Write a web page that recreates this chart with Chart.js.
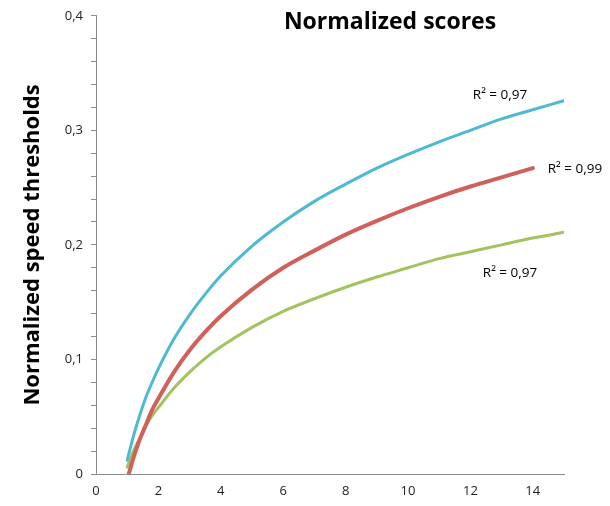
<!DOCTYPE html>
<html>
<head>
<meta charset="utf-8">
<script src="https://cdn.jsdelivr.net/npm/chart.js@4/dist/chart.umd.min.js"></script>
<style>
html, body { margin: 0; padding: 0; background: #fff; }
</style>
</head>
<body>
<canvas id="graphId" width="610" height="506"></canvas>
<script>
////////////////////////////// data \\\\\\\\\\\\\\\\\\\\\\\\\\\\\\
var chartTitle = 'Normalized scores';
var yTitle = 'Normalized speed thresholds';

var xBlue  = [1, 1.2, 1.4, 1.6, 1.8, 2, 2.5, 3, 3.5, 4, 5, 6, 7, 8, 9, 10, 11, 12, 13, 14, 15];
var blue   = [0.012, 0.033, 0.051, 0.067, 0.080, 0.092, 0.118, 0.139, 0.157, 0.173, 0.199, 0.220, 0.238, 0.253, 0.267, 0.279, 0.290, 0.300, 0.310, 0.318, 0.326];

var xRed   = [1.05, 1.2, 1.4, 1.6, 1.8, 2, 2.5, 3, 3.5, 4, 5, 6, 7, 8, 9, 10, 11, 12, 13, 14];
var red    = [0, 0.014, 0.030, 0.043, 0.056, 0.066, 0.089, 0.108, 0.124, 0.138, 0.161, 0.180, 0.195, 0.209, 0.221, 0.232, 0.242, 0.251, 0.259, 0.267];

var xGreen = [1, 1.2, 1.4, 1.6, 1.8, 2, 2.5, 3, 3.5, 4, 5, 6, 7, 8, 9, 10, 11, 12, 13, 14, 15];
var green  = [0.006, 0.020, 0.031, 0.042, 0.051, 0.058, 0.075, 0.089, 0.101, 0.111, 0.128, 0.142, 0.153, 0.163, 0.172, 0.180, 0.188, 0.194, 0.200, 0.206, 0.211];

// R² labels, anchored in data units
var r2Text = ['R\u00B2 = 0,97', 'R\u00B2 = 0,99', 'R\u00B2 = 0,97'];
var r2X    = [12.95, 15.35, 13.27];
var r2Y    = [0.331, 0.266, 0.175];

var xTicks = [0, 2, 4, 6, 8, 10, 12, 14];

////////////////////////////// helpers \\\\\\\\\\\\\\\\\\\\\\\\\\\\\\
function toPoints(xs, ys) {
  var pts = [];
  for (var i = 0; i < xs.length; i++) pts.push({x: xs[i], y: ys[i]});
  return pts;
}

var textPlugin = {
  id: 'textPlugin',
  afterDatasetsDraw: function(chart) {
    var ctx = chart.ctx;
    var xs = chart.scales.x, ys = chart.scales.y;
    ctx.save();
    ctx.fillStyle = '#000';
    ctx.textAlign = 'center';
    ctx.textBaseline = 'middle';
    ctx.font = 'bold 23px "Open Sans"';
    ctx.fillText(chartTitle, 390, 22);
    ctx.font = '13.5px "Open Sans"';
    for (var i = 0; i < r2Text.length; i++) {
      ctx.fillText(r2Text[i], xs.getPixelForValue(r2X[i]), ys.getPixelForValue(r2Y[i]));
    }
    ctx.restore();
  }
};

var axisGrey = '#8c8c8c';

////////////////////////////// chart \\\\\\\\\\\\\\\\\\\\\\\\\\\\\\
var ctx = document.getElementById('graphId').getContext('2d');
var myChart = new Chart(ctx, {
  type: 'line',
  data: {
    datasets: [
      { data: toPoints(xBlue, blue),   borderColor: '#4db9d2', borderWidth: 3 },
      { data: toPoints(xRed, red),     borderColor: '#d0605a', borderWidth: 4 },
      { data: toPoints(xGreen, green), borderColor: '#a2c360', borderWidth: 3 }
    ]
  },
  options: {
    responsive: false,
    animation: false,
    devicePixelRatio: 1,
    layout: { padding: { top: 12, right: 46, left: 0, bottom: 0 } },
    elements: {
      point: { radius: 0 },
      line: { cubicInterpolationMode: 'monotone', fill: false, borderCapStyle: 'round' }
    },
    plugins: {
      legend: { display: false },
      tooltip: { enabled: false }
    },
    scales: {
      x: {
        type: 'linear',
        min: 0,
        max: 15,
        afterBuildTicks: function(scale) {
          scale.ticks = xTicks.map(function(v) { return {value: v}; });
        },
        afterFit: function(scale) { scale.height = 32; },
        grid: { display: true, drawOnChartArea: false, drawTicks: false, color: axisGrey },
        border: { display: true, color: axisGrey, width: 1 },
        ticks: {
          padding: 9,
          color: '#222',
          font: { family: 'Open Sans', size: 13 },
          maxRotation: 0
        }
      },
      y: {
        type: 'linear',
        min: 0,
        max: 0.4,
        afterFit: function(scale) { scale.width = 96; },
        grid: { display: true, drawOnChartArea: false, drawTicks: true, tickLength: 5, color: axisGrey },
        border: { display: true, color: axisGrey, width: 1 },
        ticks: {
          stepSize: 0.02,
          autoSkip: false,
          padding: 8,
          color: '#222',
          font: { family: 'Open Sans', size: 13 },
          callback: function(v) {
            var t = v * 10;
            if (Math.abs(t - Math.round(t)) > 1e-6) return '';
            return (Math.round(t) / 10).toString().replace('.', ',');
          }
        },
        title: {
          display: true,
          text: yTitle,
          color: '#000',
          font: { family: 'Open Sans', size: 22, weight: 'bold' },
          padding: { top: 20, bottom: 0 }
        }
      }
    }
  },
  plugins: [textPlugin]
});
</script>
</body>
</html>
